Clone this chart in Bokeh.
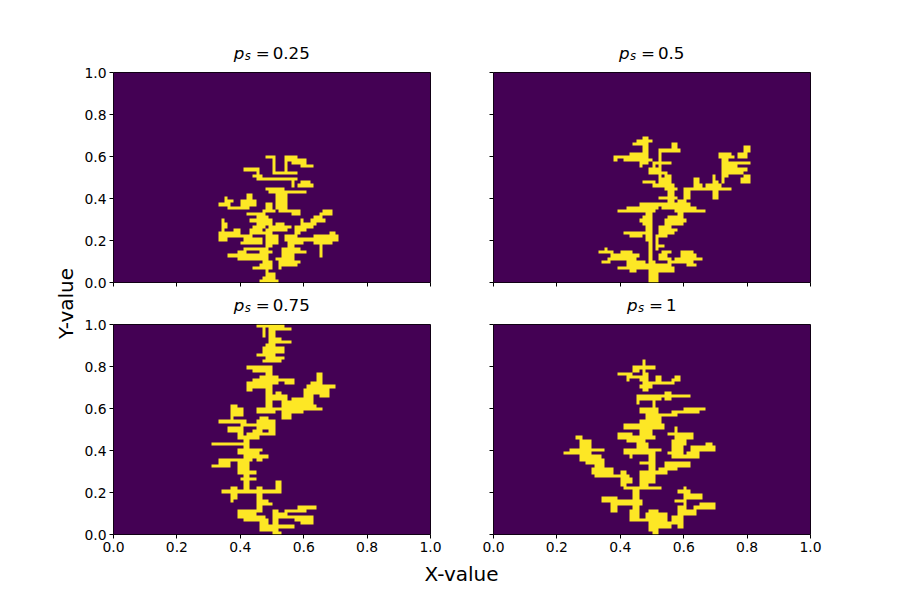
import numpy as np
from bokeh.plotting import figure
from bokeh.models import Range1d, FixedTicker, LinearColorMapper
from bokeh.layouts import row, column
from bokeh.core.properties import value
from bokeh.embed import file_html
from bokeh.resources import INLINE

# lattice size of the aggregate images
n_cols, n_rows = 100, 66

p_values = ["0.25", "0.5", "0.75", "1"]
ticks = [0.0, 0.2, 0.4, 0.6, 0.8, 1.0]
tick_labels = ["0.0", "0.2", "0.4", "0.6", "0.8", "1.0"]

# occupied lattice sites as filled blocks (col0, row0, col1, row1)
sites_025 = [
    (48, 39, 50, 39), (50, 34, 50, 39), (54, 35, 54, 39), (55, 38, 55, 39), (56, 37, 57, 39),
    (56, 37, 60, 37), (58, 38, 60, 38), (59, 36, 62, 36), (41, 35, 45, 35), (44, 33, 46, 33),
    (45, 34, 45, 35), (51, 34, 57, 34), (45, 32, 51, 32), (52, 32, 57, 32), (56, 30, 56, 32),
    (48, 29, 53, 29), (49, 28, 52, 28), (58, 30, 62, 30), (59, 31, 61, 31), (52, 28, 60, 28),
    (51, 23, 54, 23), (51, 24, 54, 26), (52, 23, 52, 28), (53, 23, 53, 27), (51, 27, 54, 27),
    (42, 23, 42, 27), (43, 24, 43, 27), (40, 24, 44, 25), (33, 24, 36, 24), (35, 24, 35, 26),
    (36, 25, 37, 25), (36, 23, 42, 23), (47, 22, 50, 22), (48, 23, 49, 24), (52, 22, 58, 22),
    (56, 21, 58, 21), (42, 21, 45, 21), (45, 18, 49, 19), (45, 20, 48, 20), (46, 21, 47, 21),
    (66, 22, 68, 22), (65, 21, 68, 21), (62, 19, 66, 19), (63, 20, 65, 20), (59, 18, 63, 18),
    (60, 17, 62, 17), (57, 16, 60, 16), (57, 15, 58, 17), (59, 17, 59, 19), (49, 17, 55, 17),
    (50, 16, 54, 16), (51, 18, 53, 18), (43, 15, 47, 15), (43, 16, 46, 16), (44, 17, 47, 17),
    (43, 19, 44, 19), (34, 16, 34, 19), (35, 17, 35, 18), (33, 15, 39, 15), (33, 14, 38, 14),
    (33, 13, 35, 13), (38, 15, 39, 16), (40, 12, 46, 12), (41, 13, 46, 13), (38, 14, 43, 14),
    (48, 10, 48, 16), (49, 11, 49, 16), (50, 12, 51, 14), (54, 13, 58, 13), (54, 14, 57, 14),
    (55, 10, 55, 13), (56, 11, 56, 12), (58, 13, 70, 13), (63, 12, 68, 12), (63, 14, 68, 14),
    (65, 8, 65, 13), (67, 14, 70, 14), (68, 15, 69, 15), (57, 12, 59, 12), (36, 8, 45, 8),
    (39, 7, 42, 7), (39, 9, 41, 9), (42, 7, 48, 7), (41, 10, 48, 10), (46, 9, 49, 9), (46, 8, 48, 8),
    (53, 9, 60, 9), (53, 10, 58, 10), (53, 6, 56, 8), (57, 6, 58, 6), (51, 7, 54, 7), (52, 4, 52, 6),
    (44, 4, 49, 4), (46, 5, 49, 5), (47, 6, 49, 6), (48, 2, 50, 2), (46, 0, 51, 0), (47, 1, 50, 1),
    (48, 1, 48, 3), (53, 5, 57, 5),
]
sites_05 = [
    (45, 44, 49, 44), (47, 45, 48, 45), (44, 43, 46, 43), (47, 37, 48, 43), (45, 38, 49, 38),
    (45, 39, 48, 39), (38, 39, 47, 39), (38, 38, 38, 39), (41, 38, 44, 38), (43, 40, 47, 40),
    (46, 36, 46, 37), (52, 31, 52, 41), (53, 41, 58, 41), (56, 42, 57, 43), (50, 37, 55, 37),
    (49, 35, 51, 35), (50, 36, 50, 37), (49, 34, 54, 34), (53, 31, 55, 32), (54, 33, 55, 33),
    (47, 31, 50, 31), (50, 30, 56, 30), (54, 29, 57, 29), (55, 24, 56, 28), (55, 29, 55, 29),
    (52, 26, 57, 26), (51, 24, 55, 24), (53, 23, 59, 23), (57, 22, 62, 22), (57, 23, 61, 24),
    (58, 25, 60, 25), (60, 26, 61, 26), (62, 22, 66, 22), (60, 23, 63, 23), (58, 19, 59, 22),
    (54, 18, 59, 18), (54, 19, 60, 19), (55, 20, 58, 20), (52, 15, 56, 15), (52, 16, 57, 16),
    (52, 17, 55, 17), (39, 22, 50, 22), (42, 23, 45, 23), (46, 23, 51, 24), (49, 0, 49, 23),
    (48, 13, 48, 22), (50, 0, 50, 6), (46, 19, 48, 19), (47, 18, 47, 20), (41, 15, 49, 15),
    (43, 14, 46, 14), (48, 13, 49, 14), (51, 14, 54, 14), (51, 10, 51, 13), (52, 11, 53, 11),
    (33, 9, 37, 9), (35, 10, 35, 10), (34, 6, 36, 6), (36, 7, 43, 7), (37, 8, 45, 8), (40, 9, 43, 9),
    (42, 5, 45, 6), (43, 3, 44, 7), (39, 4, 48, 4), (45, 5, 48, 5), (46, 6, 47, 6), (49, 0, 51, 0),
    (49, 3, 51, 3), (50, 1, 51, 2), (52, 7, 55, 7), (52, 8, 54, 8), (53, 9, 55, 9), (51, 3, 56, 4),
    (51, 5, 55, 5), (55, 6, 62, 6), (57, 7, 62, 7), (59, 8, 63, 8), (59, 9, 62, 9), (61, 5, 63, 5),
    (62, 7, 65, 7), (60, 26, 60, 29), (61, 27, 61, 29), (62, 29, 67, 29), (63, 30, 65, 30),
    (63, 31, 64, 32), (67, 29, 71, 30), (69, 26, 69, 33), (70, 26, 70, 31), (71, 29, 74, 29),
    (72, 31, 72, 39), (73, 33, 73, 39), (71, 39, 75, 39), (71, 40, 74, 40), (74, 35, 76, 37),
    (76, 37, 80, 37), (77, 39, 79, 40), (79, 40, 79, 42), (80, 41, 80, 42), (73, 34, 78, 34),
    (78, 31, 80, 32), (79, 33, 80, 33), (75, 35, 79, 35),
]
sites_075 = [
    (45, 65, 53, 65), (49, 64, 55, 64), (47, 62, 47, 65), (49, 59, 50, 64), (50, 60, 52, 61),
    (52, 60, 55, 60), (47, 57, 53, 58), (48, 55, 50, 59), (45, 56, 50, 56), (48, 55, 53, 55),
    (50, 54, 52, 54), (47, 54, 50, 54), (42, 52, 49, 52), (44, 51, 48, 51), (48, 40, 49, 51),
    (42, 45, 43, 47), (44, 46, 45, 48), (46, 46, 49, 46), (46, 47, 50, 48), (46, 49, 49, 49),
    (50, 47, 51, 49), (51, 48, 56, 48), (54, 47, 56, 47), (50, 42, 54, 43), (51, 44, 52, 44),
    (53, 40, 57, 41), (56, 41, 60, 42), (59, 41, 62, 42), (60, 43, 62, 43), (60, 44, 65, 44),
    (60, 45, 64, 45), (61, 46, 65, 46), (64, 46, 64, 50), (65, 47, 65, 50), (62, 47, 64, 47),
    (65, 46, 69, 46), (65, 43, 67, 45), (58, 40, 63, 40), (45, 39, 65, 39), (53, 36, 55, 39),
    (55, 38, 59, 38), (45, 38, 50, 38), (37, 36, 37, 40), (38, 37, 40, 39), (37, 40, 38, 40),
    (33, 35, 41, 35), (40, 34, 45, 34), (45, 33, 50, 35), (46, 36, 48, 36), (36, 32, 40, 33),
    (39, 30, 40, 31), (42, 31, 50, 31), (44, 32, 46, 32), (49, 32, 50, 32), (40, 30, 45, 30),
    (31, 28, 42, 28), (41, 24, 42, 29), (39, 25, 43, 26), (43, 26, 46, 26), (44, 25, 45, 25),
    (31, 21, 33, 21), (33, 21, 36, 23), (36, 23, 43, 23), (41, 24, 48, 24), (45, 23, 46, 23),
    (39, 19, 40, 22), (41, 16, 42, 22), (40, 17, 44, 17), (43, 19, 44, 19), (41, 13, 42, 15),
    (34, 13, 52, 13), (37, 14, 38, 14), (37, 10, 37, 12), (38, 11, 38, 12), (51, 13, 52, 16),
    (45, 14, 46, 14), (45, 7, 46, 12), (46, 9, 49, 9), (46, 10, 48, 10), (39, 5, 41, 7),
    (41, 4, 45, 5), (42, 6, 44, 7), (46, 1, 47, 5), (48, 2, 48, 4), (47, 1, 51, 1), (47, 2, 50, 2),
    (50, 0, 51, 7), (50, 0, 52, 0), (51, 5, 56, 5), (52, 6, 54, 6), (54, 7, 60, 7), (58, 8, 63, 8),
    (57, 4, 62, 5), (59, 3, 62, 3), (52, 2, 56, 2),
]
sites_1 = [
    (47, 45, 47, 54), (48, 46, 48, 50), (44, 52, 50, 52), (44, 51, 45, 51), (39, 50, 43, 50),
    (42, 48, 42, 50), (43, 49, 46, 49), (46, 48, 48, 48), (48, 47, 56, 47), (51, 48, 52, 49),
    (56, 48, 58, 48), (57, 49, 58, 49), (46, 46, 49, 46), (47, 45, 48, 45), (45, 41, 45, 43),
    (45, 43, 61, 43), (46, 42, 52, 42), (54, 42, 55, 44), (50, 34, 50, 42), (51, 35, 51, 37),
    (46, 38, 51, 39), (48, 36, 52, 36), (48, 37, 57, 37), (49, 35, 52, 35), (56, 38, 60, 38),
    (60, 39, 66, 39), (60, 38, 64, 38), (41, 33, 53, 34), (46, 31, 49, 35), (39, 30, 50, 30),
    (39, 31, 43, 31), (42, 29, 47, 29), (45, 25, 48, 28), (48, 26, 52, 26), (41, 25, 46, 25),
    (41, 26, 44, 26), (43, 24, 43, 25), (57, 30, 57, 33), (55, 31, 62, 31), (57, 30, 62, 30),
    (56, 25, 59, 29), (59, 28, 60, 29), (55, 25, 57, 25), (56, 24, 60, 24), (61, 24, 64, 25),
    (62, 26, 69, 27), (67, 28, 68, 28), (54, 20, 57, 22), (55, 21, 61, 22), (51, 19, 54, 19),
    (52, 20, 55, 20), (49, 16, 50, 25), (46, 22, 49, 22), (46, 18, 49, 19), (26, 30, 27, 30),
    (27, 27, 27, 29), (28, 27, 30, 29), (28, 25, 30, 26), (30, 26, 34, 26), (22, 25, 25, 25),
    (24, 25, 27, 26), (27, 23, 33, 24), (29, 22, 34, 22), (32, 20, 34, 23), (31, 19, 37, 20),
    (32, 18, 35, 18), (36, 18, 42, 18), (40, 15, 41, 19), (42, 16, 43, 17), (41, 14, 52, 14),
    (46, 15, 48, 17), (44, 8, 45, 13), (34, 10, 38, 11), (37, 7, 38, 9), (39, 9, 46, 10),
    (43, 4, 45, 7), (43, 4, 54, 4), (48, 5, 54, 6), (49, 7, 51, 7), (49, 1, 51, 3), (50, 0, 51, 0),
    (51, 2, 55, 2), (52, 3, 56, 3), (58, 13, 61, 13), (60, 7, 60, 14), (61, 11, 65, 12),
    (57, 10, 60, 10), (58, 2, 59, 8), (59, 6, 63, 7), (63, 8, 67, 8), (65, 8, 69, 9), (56, 4, 59, 5),
    (55, 3, 58, 3),
]

PURPLE = "#440154"
YELLOW = "#fde725"
FONT = "DejaVu Sans"


def lattice(blocks):
    g = np.zeros((n_rows, n_cols))
    for c0, r0, c1, r1 in blocks:
        g[min(r0, r1):max(r0, r1) + 1, min(c0, c1):max(c0, c1) + 1] = 1
    return g


def panel(blocks, show_x, show_y, bl, br):
    # top border of 9px keeps the "1.0" tick label inside the canvas
    p = figure(frame_width=317, frame_height=210, x_range=Range1d(0, 1), y_range=Range1d(0, 1),
               min_border_left=bl, min_border_right=br, min_border_top=9,
               min_border_bottom=26 if show_x else 12,
               toolbar_location=None, output_backend="svg", background_fill_color="white")
    mapper = LinearColorMapper(palette=[PURPLE, YELLOW], low=0, high=1)
    p.image(image=[lattice(blocks)], x=0, y=0, dw=1, dh=1, color_mapper=mapper)
    p.grid.visible = False
    p.outline_line_color = "black"
    p.outline_line_width = 1
    p.outline_line_alpha = 1
    for ax, show in ((p.xaxis, show_x), (p.yaxis, show_y)):
        ax.ticker = FixedTicker(ticks=ticks)
        ax.axis_line_color = None
        ax.major_tick_in = 0
        ax.major_tick_out = 4
        ax.major_tick_line_color = "black"
        ax.minor_tick_line_color = None
        ax.major_label_text_font = FONT
        ax.major_label_text_color = "black"
        ax.major_label_text_font_size = "13.9px"
        if show:
            ax.major_label_overrides = dict(zip(ticks, tick_labels))
            ax.major_label_standoff = 3
        else:
            ax.major_label_overrides = {t: "" for t in ticks}
            ax.major_label_standoff = 0
    return p


def strip(w, h):
    s = figure(width=w, height=h, x_range=Range1d(0, w), y_range=Range1d(0, h),
               min_border=0, toolbar_location=None, output_backend="svg")
    s.axis.visible = False
    s.grid.visible = False
    s.outline_line_color = None
    return s


MID = 0.346  # distance from alphabetic baseline to the middle of the font box, in em


def title_strip(h, vals):
    # "p_s = value" above each panel: italic p, small italic s, then "= value"
    s = strip(749, h)
    kw = dict(text_font=value(FONT), text_color="black", text_baseline="middle", text_align="left")
    for cx, val in zip((190.5, 570.5), vals):
        w_val = sum(10.6 if ch.isdigit() else 5.3 for ch in val)
        left = cx - (39.6 + w_val) / 2
        s.text(x=[left], y=[5 + MID * 16.7], text=["p"], text_font_size="16.7px",
               text_font_style="italic", **kw)
        s.text(x=[left + 11], y=[3 + MID * 11.7], text=["s"], text_font_size="11.7px",
               text_font_style="italic", **kw)
        s.text(x=[left + 22], y=[5 + MID * 16.7], text=["="], text_font_size="16.7px", **kw)
        s.text(x=[left + 39], y=[5 + MID * 16.7], text=[val], text_font_size="16.7px", **kw)
    return s


p1 = panel(sites_025, False, True, 32, 20)
p2 = panel(sites_05, False, False, 43, 20)
p3 = panel(sites_075, True, True, 32, 20)
p4 = panel(sites_1, True, False, 43, 20)

t_top = title_strip(63, p_values[:2])
t_mid = title_strip(21, p_values[2:])

ylab = strip(81, 600)
ylab.text(x=[72 - MID * 20], y=[297], text=["Y-value"], angle=np.pi / 2, text_font=value(FONT),
          text_font_size="20px", text_align="center", text_baseline="middle", text_color="black")
xlab = strip(749, 40)
xlab.text(x=[380], y=[20 + MID * 20], text=["X-value"], text_font=value(FONT),
          text_font_size="20px", text_align="center", text_baseline="middle", text_color="black")

layout = row(ylab, column(t_top, row(p1, p2), t_mid, row(p3, p4), xlab))

open("out.html", "w").write(file_html(layout, INLINE))
